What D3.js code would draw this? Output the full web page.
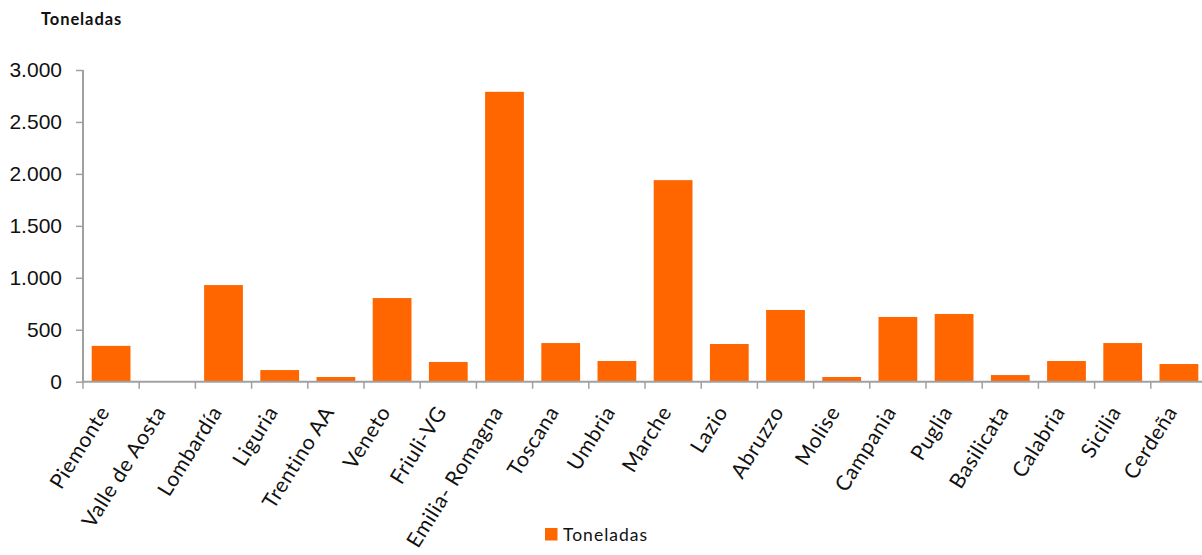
<!DOCTYPE html>
<html>
<head>
<meta charset="utf-8">
<script src="https://cdn.jsdelivr.net/npm/d3@7"></script>
<style>
  html, body { margin: 0; padding: 0; background: #fff; }
  svg { display: block; font-family: Lato, "Open Sans", sans-serif; }
</style>
</head>
<body>
<svg id="chart" width="1202" height="555"></svg>
<script>
// Regions (categories) and tonnage per region
const regions = ["Piemonte", "Valle de Aosta", "Lombardía", "Liguria", "Trentino AA", "Veneto",
  "Friuli-VG", "Emilia- Romagna", "Toscana", "Umbria", "Marche", "Lazio", "Abruzzo", "Molise",
  "Campania", "Puglia", "Basilicata", "Calabria", "Sicilia", "Cerdeña"];
const toneladas = [345, 0, 930, 112, 45, 805, 190, 2790, 372, 199, 1940, 363, 690, 45,
  623, 652, 64, 199, 372, 170];
const yTicks = [0, 500, 1000, 1500, 2000, 2500, 3000];
const seriesName = "Toneladas";
const axisTitle = "Toneladas";

const svg = d3.select("#chart");
const barColor = "#FF6600";
const axisColor = "#a0a0a0";

const x = d3.scaleBand()
  .domain(regions)
  .range([83, 83 + 20 * 56.2])
  .paddingInner(0.31)
  .paddingOuter(0.155);

const y = d3.scaleLinear()
  .domain([0, 3000])
  .range([381.7, 70]);

const fmt = d3.format(",");
const tickFmt = v => fmt(v).replace(/,/g, ".");

// Bars
svg.append("g")
  .selectAll("rect")
  .data(regions)
  .join("rect")
  .attr("x", d => x(d))
  .attr("width", x.bandwidth())
  .attr("y", (d, i) => y(toneladas[i]))
  .attr("height", (d, i) => y(0) - y(toneladas[i]))
  .attr("fill", barColor);

// Y axis
const yAxis = svg.append("g")
  .attr("transform", "translate(83,0)")
  .call(d3.axisLeft(y).tickValues(yTicks).tickFormat(tickFmt).tickSize(7).tickPadding(14));
yAxis.select(".domain").attr("stroke", axisColor).attr("stroke-width", 2)
  .attr("d", `M0,${y(3000)}V${y(0) + 1}`);
yAxis.selectAll(".tick line").attr("stroke", axisColor).attr("stroke-width", 1.5);
yAxis.selectAll(".tick text").attr("font-size", 21).attr("fill", "#111");

// X axis: ticks on band boundaries
const step = x.step();
const x0 = x.range()[0];
const boundaries = d3.range(regions.length + 1).map(i => x0 + i * step);
const xAxisG = svg.append("g");
xAxisG.append("line")
  .attr("x1", 82).attr("x2", x.range()[1])
  .attr("y1", y(0)).attr("y2", y(0))
  .attr("stroke", axisColor).attr("stroke-width", 2);
xAxisG.selectAll("line.tk")
  .data(boundaries)
  .join("line")
  .attr("class", "tk")
  .attr("x1", d => d).attr("x2", d => d)
  .attr("y1", y(0)).attr("y2", y(0) + 7)
  .attr("stroke", axisColor).attr("stroke-width", 1.5);

// Rotated category labels
xAxisG.selectAll("text")
  .data(regions)
  .join("text")
  .attr("transform", d => `translate(${x(d) + x.bandwidth() / 2 - 7},408) rotate(-58)`)
  .attr("text-anchor", "end")
  .attr("dy", "0.35em")
  .attr("font-size", 21)
  .attr("letter-spacing", 0.6)
  .attr("fill", "#111")
  .text(d => d);

// Axis title
svg.append("text")
  .attr("x", 41).attr("y", 25)
  .attr("font-size", 16.5)
  .attr("font-weight", "bold")
  .attr("letter-spacing", 0.9)
  .attr("fill", "#111")
  .text(axisTitle);

// Legend
const legend = svg.append("g").attr("transform", "translate(545,528)");
legend.append("rect").attr("width", 12.5).attr("height", 12.5).attr("fill", barColor);
legend.append("text")
  .attr("x", 18).attr("y", 12.7)
  .attr("font-size", 17.5)
  .attr("letter-spacing", 1)
  .attr("fill", "#111")
  .text(seriesName);
</script>
</body>
</html>
